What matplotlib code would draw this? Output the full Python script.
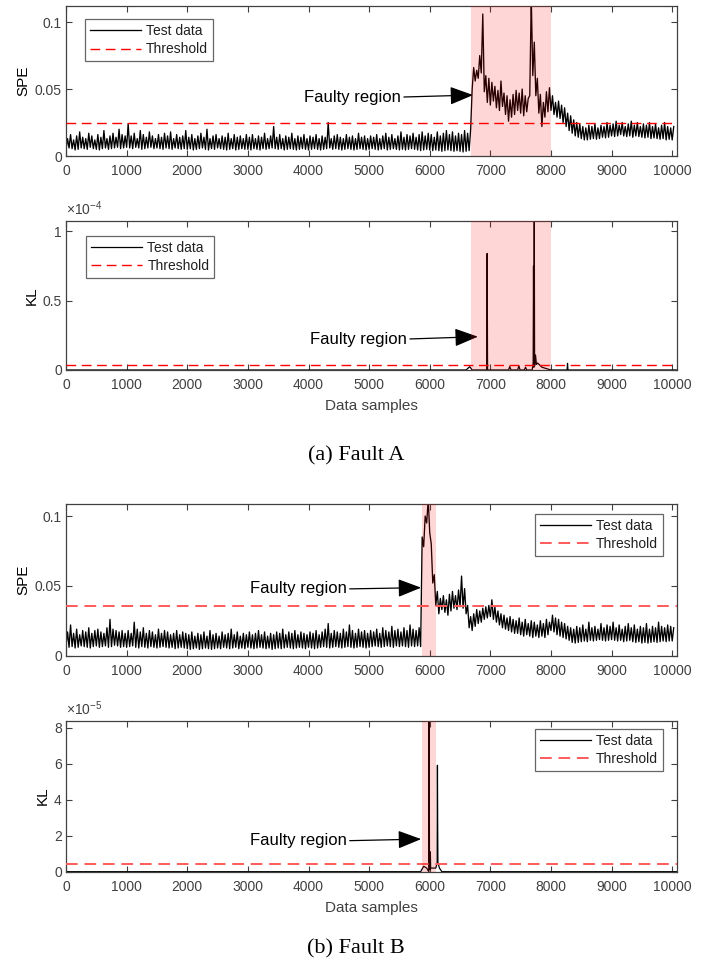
import numpy as np
import matplotlib
matplotlib.use("Agg")
import matplotlib.pyplot as plt
from matplotlib.ticker import FixedLocator

plt.rcParams['font.family'] = ['Liberation Sans', 'DejaVu Sans']
plt.rcParams['mathtext.fontset'] = 'custom'
plt.rcParams['mathtext.rm'] = 'Liberation Sans'
plt.rcParams['mathtext.it'] = 'Liberation Sans:italic'

# ---------------- data ----------------
# lower envelope read every 50 samples (0..10000), upper envelope at +25
grid = list(range(0, 10001, 50))

spe_a_lo = [
    0.005, 0.006, 0.0055, 0.0045, 0.005, 0.006, 0.0055, 0.005, 0.0065, 0.0055, 0.005, 0.0045, 0.0055, 0.006, 0.005, 0.0055, 0.006, 0.0065, 0.0055, 0.006,
    0.0065, 0.006, 0.0055, 0.0065, 0.006, 0.005, 0.0055, 0.006, 0.0065, 0.0055, 0.006, 0.0055, 0.005, 0.006, 0.0055, 0.005, 0.006, 0.0055, 0.005, 0.0055,
    0.005, 0.0055, 0.0045, 0.005, 0.0055, 0.006, 0.005, 0.0045, 0.0055, 0.005, 0.006, 0.0055, 0.005, 0.0045, 0.005, 0.0055, 0.0045, 0.005, 0.0055, 0.005,
    0.005, 0.0045, 0.0055, 0.005, 0.0045, 0.0055, 0.005, 0.0055, 0.006, 0.0055, 0.005, 0.0055, 0.0045, 0.005, 0.0055, 0.005, 0.0045, 0.005, 0.0055, 0.005,
    0.0045, 0.005, 0.0055, 0.005, 0.0045, 0.005, 0.0055, 0.006, 0.005, 0.0055, 0.005, 0.0045, 0.005, 0.0055, 0.005, 0.0045, 0.005, 0.0055, 0.005, 0.0045,
    0.005, 0.0055, 0.005, 0.0045, 0.005, 0.0055, 0.0045, 0.005, 0.0055, 0.005, 0.0045, 0.005, 0.0045, 0.005, 0.0055, 0.005, 0.0045, 0.004, 0.0045, 0.005,
    0.0045, 0.004, 0.0045, 0.004, 0.0035, 0.004, 0.0045, 0.004, 0.0035, 0.004, 0.0035, 0.003, 0.0035, 0.004, 0.050, 0.056, 0.058, 0.062, 0.048, 0.040,
    0.038, 0.041, 0.036, 0.034, 0.037, 0.031, 0.026, 0.029, 0.031, 0.034, 0.032, 0.030, 0.033, 0.045, 0.060, 0.045, 0.032, 0.022, 0.029, 0.033,
    0.034, 0.031, 0.029, 0.028, 0.025, 0.022, 0.019, 0.017, 0.015, 0.014, 0.013, 0.012, 0.012, 0.0125, 0.013, 0.0125, 0.013, 0.014, 0.0135, 0.014,
    0.015, 0.0145, 0.015, 0.016, 0.015, 0.0145, 0.015, 0.014, 0.015, 0.0145, 0.014, 0.0135, 0.014, 0.013, 0.0135, 0.013, 0.0125, 0.013, 0.012, 0.0125,
    0.012]
spe_a_hi = [
    0.013, 0.016, 0.012, 0.015, 0.018, 0.014, 0.013, 0.017, 0.015, 0.012, 0.016, 0.014, 0.019, 0.013, 0.015, 0.017, 0.014, 0.020, 0.016, 0.015,
    0.024, 0.015, 0.017, 0.013, 0.019, 0.016, 0.014, 0.018, 0.015, 0.013, 0.016, 0.014, 0.017, 0.015, 0.018, 0.013, 0.016, 0.014, 0.015, 0.019,
    0.014, 0.016, 0.013, 0.015, 0.017, 0.014, 0.020, 0.013, 0.015, 0.016, 0.013, 0.015, 0.014, 0.017, 0.013, 0.016, 0.014, 0.015, 0.013, 0.016,
    0.014, 0.016, 0.013, 0.015, 0.014, 0.017, 0.013, 0.015, 0.022, 0.014, 0.016, 0.013, 0.015, 0.014, 0.017, 0.013, 0.015, 0.014, 0.016, 0.013,
    0.015, 0.014, 0.016, 0.013, 0.015, 0.014, 0.025, 0.013, 0.015, 0.016, 0.014, 0.013, 0.016, 0.014, 0.015, 0.013, 0.017, 0.014, 0.015, 0.013,
    0.015, 0.014, 0.016, 0.013, 0.015, 0.017, 0.014, 0.016, 0.013, 0.015, 0.018, 0.014, 0.016, 0.015, 0.017, 0.014, 0.016, 0.018, 0.015, 0.017,
    0.016, 0.014, 0.018, 0.015, 0.017, 0.019, 0.016, 0.018, 0.015, 0.017, 0.016, 0.019, 0.017, 0.020, 0.066, 0.064, 0.075, 0.106, 0.060, 0.058,
    0.055, 0.052, 0.049, 0.056, 0.047, 0.045, 0.042, 0.046, 0.049, 0.047, 0.050, 0.045, 0.043, 0.118, 0.085, 0.058, 0.046, 0.040, 0.048, 0.051,
    0.045, 0.040, 0.041, 0.038, 0.036, 0.032, 0.030, 0.027, 0.025, 0.024, 0.022, 0.021, 0.023, 0.022, 0.024, 0.021, 0.023, 0.022, 0.025, 0.023,
    0.024, 0.026, 0.023, 0.025, 0.022, 0.024, 0.026, 0.023, 0.025, 0.022, 0.024, 0.023, 0.025, 0.022, 0.024, 0.021, 0.023, 0.025, 0.022, 0.021,
    0.022]
spe_a_threshold = 0.0245

spe_b_lo = [
    0.007, 0.006, 0.0065, 0.0055, 0.006, 0.007, 0.0065, 0.006, 0.0055, 0.0065, 0.007, 0.006, 0.0065, 0.007, 0.006, 0.0065, 0.0075, 0.007, 0.006, 0.0065,
    0.006, 0.0065, 0.007, 0.006, 0.0055, 0.0065, 0.006, 0.0055, 0.0065, 0.006, 0.0055, 0.006, 0.0065, 0.006, 0.0055, 0.006, 0.005, 0.0055, 0.006, 0.0055,
    0.005, 0.0045, 0.005, 0.0055, 0.0045, 0.005, 0.0055, 0.005, 0.0045, 0.005, 0.0055, 0.005, 0.006, 0.0055, 0.005, 0.0055, 0.006, 0.005, 0.0055, 0.005,
    0.006, 0.0055, 0.005, 0.0055, 0.006, 0.0055, 0.005, 0.0055, 0.0045, 0.005, 0.0055, 0.005, 0.0055, 0.006, 0.0055, 0.005, 0.0055, 0.006, 0.0055, 0.005,
    0.006, 0.0055, 0.005, 0.0055, 0.006, 0.0065, 0.006, 0.0055, 0.006, 0.0065, 0.006, 0.0055, 0.006, 0.0065, 0.006, 0.0055, 0.006, 0.0065, 0.006, 0.0055,
    0.006, 0.0065, 0.007, 0.0065, 0.006, 0.0065, 0.007, 0.0065, 0.006, 0.007, 0.0065, 0.007, 0.0065, 0.006, 0.007, 0.0065, 0.007, 0.0065, 0.078, 0.095,
    0.088, 0.052, 0.036, 0.030, 0.033, 0.031, 0.029, 0.032, 0.034, 0.033, 0.035, 0.034, 0.030, 0.020, 0.018, 0.021, 0.023, 0.024, 0.026, 0.027,
    0.028, 0.026, 0.024, 0.022, 0.020, 0.019, 0.018, 0.017, 0.016, 0.016, 0.015, 0.014, 0.015, 0.014, 0.013, 0.014, 0.013, 0.014, 0.013, 0.015,
    0.018, 0.017, 0.015, 0.014, 0.013, 0.012, 0.011, 0.0095, 0.009, 0.0095, 0.010, 0.0105, 0.010, 0.011, 0.0105, 0.011, 0.0115, 0.011, 0.0105, 0.011,
    0.0115, 0.011, 0.0105, 0.011, 0.010, 0.0105, 0.011, 0.010, 0.0095, 0.010, 0.009, 0.0095, 0.009, 0.0095, 0.010, 0.0095, 0.010, 0.0105, 0.010, 0.0105,
    0.0105]
spe_b_hi = [
    0.017, 0.022, 0.016, 0.019, 0.015, 0.018, 0.017, 0.020, 0.016, 0.018, 0.019, 0.017, 0.016, 0.020, 0.026, 0.019, 0.018, 0.017, 0.018, 0.016,
    0.018, 0.016, 0.024, 0.019, 0.017, 0.020, 0.016, 0.018, 0.017, 0.015, 0.019, 0.016, 0.018, 0.017, 0.015, 0.016, 0.018, 0.015, 0.017, 0.016,
    0.015, 0.017, 0.014, 0.016, 0.015, 0.017, 0.014, 0.018, 0.015, 0.016, 0.014, 0.017, 0.015, 0.016, 0.019, 0.015, 0.017, 0.014, 0.016, 0.015,
    0.017, 0.015, 0.016, 0.018, 0.015, 0.017, 0.014, 0.016, 0.015, 0.017, 0.016, 0.019, 0.015, 0.017, 0.016, 0.018, 0.015, 0.017, 0.016, 0.015,
    0.017, 0.016, 0.018, 0.015, 0.017, 0.019, 0.023, 0.016, 0.018, 0.017, 0.016, 0.019, 0.017, 0.022, 0.018, 0.016, 0.019, 0.017, 0.018, 0.016,
    0.018, 0.017, 0.019, 0.016, 0.020, 0.018, 0.017, 0.021, 0.018, 0.019, 0.017, 0.020, 0.018, 0.022, 0.019, 0.018, 0.020, 0.085, 0.100, 0.112,
    0.080, 0.058, 0.046, 0.041, 0.043, 0.040, 0.044, 0.046, 0.043, 0.047, 0.057, 0.048, 0.036, 0.028, 0.030, 0.033, 0.032, 0.034, 0.035, 0.036,
    0.040, 0.035, 0.032, 0.030, 0.029, 0.027, 0.028, 0.026, 0.025, 0.027, 0.024, 0.026, 0.023, 0.025, 0.024, 0.022, 0.025, 0.023, 0.026, 0.024,
    0.029, 0.027, 0.026, 0.024, 0.023, 0.021, 0.020, 0.019, 0.021, 0.020, 0.022, 0.019, 0.024, 0.020, 0.021, 0.019, 0.023, 0.020, 0.022, 0.021,
    0.024, 0.020, 0.022, 0.019, 0.021, 0.023, 0.020, 0.022, 0.019, 0.021, 0.020, 0.023, 0.019, 0.021, 0.020, 0.024, 0.021, 0.020, 0.022, 0.021,
    0.020]
spe_b_threshold = 0.0356

kl_a_x = [0, 1000, 2300, 3600, 6600, 6660, 6700, 6940, 6947, 6954, 7300, 7320, 7340,
          7450, 7470, 7490, 7560, 7580, 7600, 7690, 7706, 7712, 7718, 7724, 7730,
          7745, 7760, 7780, 7850, 8000, 8266, 8273, 8280, 10075]
kl_a_v = [0, 0, 0, 0, 0, 2.4e-6, 0, 0, 8.4e-5, 0, 0, 2.5e-6, 0,
          0, 3e-6, 0, 0, 2e-6, 0, 0, 5e-6, 7.5e-5, 2e-6, 1.2e-4, 3e-6,
          1.08e-5, 4e-6, 5e-6, 2e-6, 0, 0, 4.8e-6, 0, 0]
kl_a_threshold = 3.8e-6

kl_b_x = [0, 5850, 5900, 5950, 5984, 5990, 5996, 6005, 6010, 6015, 6100, 6122, 6127,
          6131, 6135, 6160, 6200, 10075]
kl_b_v = [0, 0, 3e-6, 2e-6, 0, 9e-5, 3e-6, 1e-6, 1.1e-5, 2e-6, 2e-6, 5e-6, 5.91e-5,
          2.53e-5, 5e-6, 2e-6, 0, 0]
kl_b_threshold = 4.1e-6

fault_a = (6680, 8000)
fault_b = (5870, 6100)

xticks = [0, 1000, 2000, 3000, 4000, 5000, 6000, 7000, 8000, 9000, 10000]

# ---------------- figure ----------------
fig = plt.figure(figsize=(7.10, 9.60), dpi=100)
GRAY = '#404040'


def zig(lo, hi):
    xs, ys = [], []
    for g, l, h in zip(grid, lo, hi):
        xs += [g, g + 25]
        ys += [l, h]
    return xs, ys


def style(ax, ylim, yticks, ylabels):
    ax.set_xlim(0, 10080)
    ax.set_ylim(*ylim)
    ax.xaxis.set_major_locator(FixedLocator(xticks))
    ax.set_xticklabels([str(t) for t in xticks])
    ax.yaxis.set_major_locator(FixedLocator(yticks))
    ax.set_yticklabels(ylabels)
    ax.tick_params(direction='in', top=True, right=True, length=4, width=0.8,
                   color=GRAY, labelcolor=GRAY, labelsize=10)
    ax.tick_params(axis='x', pad=6)
    ax.tick_params(axis='y', pad=3)
    for s in ax.spines.values():
        s.set_color(GRAY)
        s.set_linewidth(0.9)


def legend(ax, loc, anchor):
    lg = ax.legend(loc=loc, bbox_to_anchor=anchor, borderaxespad=0, fontsize=10,
                   handlelength=3.7, handletextpad=0.35, borderpad=0.35,
                   labelspacing=0.3, fancybox=False, frameon=True)
    lg.get_frame().set_edgecolor(GRAY)
    lg.get_frame().set_linewidth(0.9)
    for t in lg.get_texts():
        t.set_color('#202020')


def faulty(ax, xy_text, xy_tip):
    ax.annotate('Faulty region', xy=xy_tip, xytext=xy_text, fontsize=12,
                ha='left', va='center', color='black',
                arrowprops=dict(arrowstyle='-|>,head_length=0.9,head_width=0.35',
                                color='black', lw=0.9, shrinkA=0, shrinkB=0,
                                relpos=(1, 0.5), mutation_scale=16))


L, W = 0.093, 0.8606
ax1 = fig.add_axes([L, 0.8375, W, 0.15625])
ax2 = fig.add_axes([L, 0.6146, W, 0.1552])
ax3 = fig.add_axes([L, 0.3170, W, 0.1577])
ax4 = fig.add_axes([L, 0.0920, W, 0.1573])

# Panel 1: SPE fault A
xs, ys = zig(spe_a_lo, spe_a_hi)
ax1.plot(xs, ys, color='black', lw=0.95, label='Test data', zorder=2)
ax1.axhline(spe_a_threshold, color='red', ls=(0, (7, 4)), lw=1.0, label='Threshold', zorder=3)
ax1.axvspan(*fault_a, color='red', alpha=0.16, lw=0, zorder=4)
style(ax1, (0, 0.112), [0, 0.05, 0.1], ['0', '0.05', '0.1'])
ax1.set_ylabel('SPE', fontsize=11, labelpad=3)
legend(ax1, 'upper left', (0.031, 0.911))
faulty(ax1, (3930, 0.044), (6716, 0.0455))

# Panel 2: KL fault A
ax2.plot(kl_a_x, kl_a_v, color='black', lw=0.9, label='Test data', zorder=2)
ax2.axhline(kl_a_threshold, color='red', ls=(0, (7, 4)), lw=1.0, label='Threshold', zorder=3)
ax2.axvspan(*fault_a, color='red', alpha=0.16, lw=0, zorder=4)
style(ax2, (0, 1.074e-4), [0, 0.5e-4, 1e-4], ['0', '0.5', '1'])
ax2.set_ylabel('KL', fontsize=11, labelpad=3)
ax2.set_xlabel('Data samples', fontsize=11, color=GRAY, labelpad=5)
ax2.text(0, 1.018, r'$\times10^{-4}$', transform=ax2.transAxes, fontsize=10,
         color=GRAY, ha='left', va='bottom')
legend(ax2, 'upper left', (0.033, 0.899))
faulty(ax2, (4030, 0.223e-4), (6794, 0.24e-4))

# Panel 3: SPE fault B
xs, ys = zig(spe_b_lo, spe_b_hi)
ax3.plot(xs, ys, color='black', lw=0.95, label='Test data', zorder=2)
ax3.axhline(spe_b_threshold, color='#ff5a5a', ls=(0, (6, 3.5)), lw=1.4, label='Threshold', zorder=3)
ax3.axvspan(*fault_b, color='red', alpha=0.16, lw=0, zorder=4)
style(ax3, (0, 0.1084), [0, 0.05, 0.1], ['0', '0.05', '0.1'])
ax3.set_ylabel('SPE', fontsize=11, labelpad=3)
legend(ax3, 'upper right', (0.977, 0.936))
faulty(ax3, (3036, 0.0478), (5858, 0.0487))

# Panel 4: KL fault B
ax4.plot(kl_b_x, kl_b_v, color='black', lw=0.9, label='Test data', zorder=2)
ax4.axhline(kl_b_threshold, color='#ff5a5a', ls=(0, (6, 3.5)), lw=1.4, label='Threshold', zorder=3)
ax4.axvspan(*fault_b, color='red', alpha=0.16, lw=0, zorder=4)
style(ax4, (0, 8.39e-5), [0, 2e-5, 4e-5, 6e-5, 8e-5], ['0', '2', '4', '6', '8'])
ax4.set_ylabel('KL', fontsize=11, labelpad=3)
ax4.set_xlabel('Data samples', fontsize=11, color=GRAY, labelpad=5)
ax4.text(0, 1.018, r'$\times10^{-5}$', transform=ax4.transAxes, fontsize=10,
         color=GRAY, ha='left', va='bottom')
legend(ax4, 'upper right', (0.977, 0.945))
faulty(ax4, (3036, 1.72e-5), (5858, 1.81e-5))

fig.text(356 / 710, 1 - 456 / 960, '(a) Fault A', family='Liberation Serif',
         fontsize=16, ha='center', va='center')
fig.text(356 / 710, 1 - 949 / 960, '(b) Fault B', family='Liberation Serif',
         fontsize=16, ha='center', va='center')

fig.savefig('out.png', dpi=100)
